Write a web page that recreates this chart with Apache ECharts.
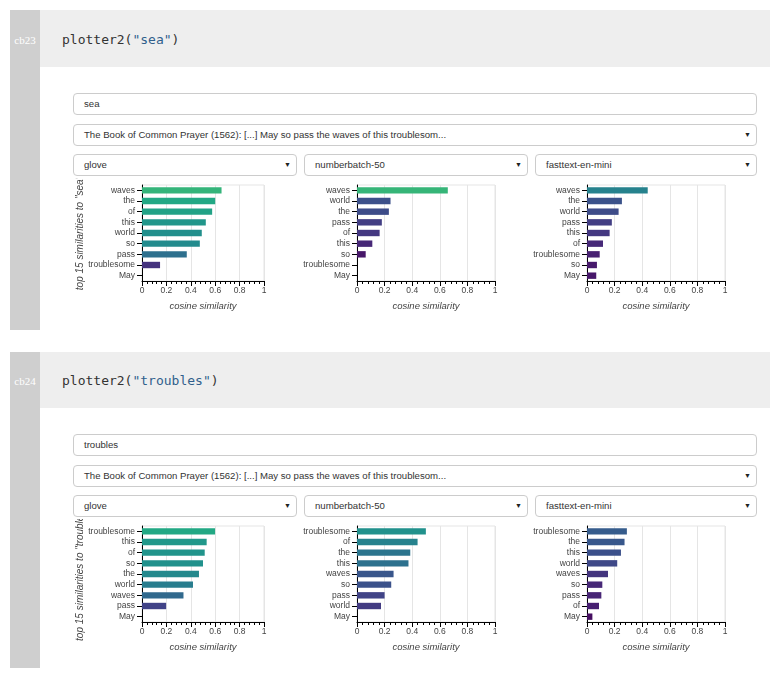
<!DOCTYPE html>
<html>
<head>
<meta charset="utf-8">
<script src="https://cdn.jsdelivr.net/npm/echarts@6/dist/echarts.min.js"></script>
<style>
body{margin:0;width:783px;height:686px;position:relative;background:#fff;font-family:"Liberation Sans",Arial,sans-serif;overflow:hidden}
.strip{position:absolute;left:10px;width:30px;background:#cfcfcf}
.head{position:absolute;left:40px;width:730px;background:#eeeeee}
.lbl{position:absolute;left:10px;width:30px;text-align:center;font-family:"Liberation Serif",serif;font-size:11px;line-height:12px;color:#fff}
.code{position:absolute;left:62px;font-family:"DejaVu Sans Mono",monospace;font-size:13px;line-height:16px;color:#333}
.code .s{color:#305f8c}
.box{position:absolute;height:22px;border:1px solid #ccc;border-radius:4px;background:#fff;box-sizing:border-box;font-size:9.6px;color:#333;line-height:20px;padding-left:10px;white-space:nowrap;overflow:hidden}
.arrow{position:absolute;right:5px;top:0;font-size:7px;color:#222}
.chart{position:absolute;height:142px}
</style>
</head>
<body>
<!-- cell cb23 -->
<div class="strip" style="top:10px;height:320px"></div>
<div class="head" style="top:10px;height:57px"></div>
<div class="lbl" style="top:34px">cb23</div>
<div class="code" style="top:32px">plotter2(<span class="s">"sea"</span>)</div>
<div class="box" style="left:73px;top:93px;width:684px">sea</div>
<div class="box" style="left:73px;top:124px;width:684px">The Book of Common Prayer (1562): [...] May so pass the waves of this troublesom...<span class="arrow">▼</span></div>
<div class="box" style="left:73px;top:154px;width:224px">glove<span class="arrow">▼</span></div>
<div class="box" style="left:304px;top:154px;width:224px">numberbatch-50<span class="arrow">▼</span></div>
<div class="box" style="left:535px;top:154px;width:222px">fasttext-en-mini<span class="arrow">▼</span></div>
<div class="chart" id="c1" style="left:63px;top:178px;width:234px"></div>
<div class="chart" id="c2" style="left:294px;top:178px;width:234px"></div>
<div class="chart" id="c3" style="left:525px;top:178px;width:233px"></div>

<!-- cell cb24 -->
<div class="strip" style="top:352px;height:316px"></div>
<div class="head" style="top:352px;height:56px"></div>
<div class="lbl" style="top:375px">cb24</div>
<div class="code" style="top:373px">plotter2(<span class="s">"troubles"</span>)</div>
<div class="box" style="left:73px;top:434px;width:684px">troubles</div>
<div class="box" style="left:73px;top:465px;width:684px">The Book of Common Prayer (1562): [...] May so pass the waves of this troublesom...<span class="arrow">▼</span></div>
<div class="box" style="left:73px;top:495px;width:224px">glove<span class="arrow">▼</span></div>
<div class="box" style="left:304px;top:495px;width:224px">numberbatch-50<span class="arrow">▼</span></div>
<div class="box" style="left:535px;top:495px;width:222px">fasttext-en-mini<span class="arrow">▼</span></div>
<div class="chart" id="c4" style="left:63px;top:519px;width:234px"></div>
<div class="chart" id="c5" style="left:294px;top:519px;width:234px"></div>
<div class="chart" id="c6" style="left:525px;top:519px;width:233px"></div>

<script>
// "sea"
const seaGloveWords = ['waves', 'the', 'of', 'this', 'world', 'so', 'pass', 'troublesome', 'May'];
const seaGloveValues = [0.652, 0.600, 0.575, 0.523, 0.490, 0.474, 0.367, 0.148, 0];
const seaNumberbatchWords = ['waves', 'world', 'the', 'pass', 'of', 'this', 'so', 'troublesome', 'May'];
const seaNumberbatchValues = [0.658, 0.243, 0.231, 0.180, 0.164, 0.111, 0.063, 0, 0];
const seaFasttextWords = ['waves', 'the', 'world', 'pass', 'this', 'of', 'troublesome', 'so', 'May'];
const seaFasttextValues = [0.440, 0.253, 0.229, 0.180, 0.164, 0.116, 0.092, 0.072, 0.067];

// "troubles"
const troublesGloveWords = ['troublesome', 'this', 'of', 'so', 'the', 'world', 'waves', 'pass', 'May'];
const troublesGloveValues = [0.599, 0.530, 0.514, 0.500, 0.467, 0.418, 0.340, 0.198, 0];
const troublesNumberbatchWords = ['troublesome', 'of', 'the', 'this', 'waves', 'so', 'pass', 'world', 'May'];
const troublesNumberbatchValues = [0.499, 0.439, 0.386, 0.373, 0.265, 0.248, 0.200, 0.174, 0];
const troublesFasttextWords = ['troublesome', 'the', 'this', 'world', 'waves', 'so', 'pass', 'of', 'May'];
const troublesFasttextValues = [0.289, 0.272, 0.246, 0.219, 0.152, 0.111, 0.104, 0.087, 0.039];

const xTicks = [0, 0.2, 0.4, 0.6, 0.8, 1];

// viridis, 0 -> 1
const VIRIDIS = ['#440154', '#482475', '#414487', '#355f8d', '#2a788e', '#21918c',
                 '#22a884', '#44bf70', '#7ad151', '#bddf26', '#fde725'];

function hexRgb(h) {
  return [parseInt(h.slice(1, 3), 16), parseInt(h.slice(3, 5), 16), parseInt(h.slice(5, 7), 16)];
}
function barColor(v) {
  const t = Math.max(0, Math.min(1, v)) * (VIRIDIS.length - 1);
  const i = Math.min(Math.floor(t), VIRIDIS.length - 2);
  const f = t - i;
  const a = hexRgb(VIRIDIS[i]), b = hexRgb(VIRIDIS[i + 1]);
  return 'rgb(' + a.map((c, k) => Math.round(c + (b[k] - c) * f)).join(',') + ')';
}

function drawChart(id, words, values, left, yName) {
  const chart = echarts.init(document.getElementById(id));
  chart.setOption({
    animation: false,
    grid: {
      left: left, right: 33, top: 7, bottom: 39,
      show: true, borderColor: '#e5e5e5', borderWidth: 1,
      containLabel: false, outerBoundsMode: 'none'
    },
    xAxis: {
      type: 'value', min: xTicks[0], max: xTicks[xTicks.length - 1], interval: 0.2,
      name: 'cosine similarity', nameLocation: 'middle', nameGap: 20,
      nameTextStyle: {fontStyle: 'italic', fontSize: 9.5, color: '#444'},
      axisLine: {show: true, lineStyle: {color: '#000'}},
      axisTick: {show: true, length: 5, lineStyle: {color: '#000'}},
      minorTick: {show: true, splitNumber: 5, length: 3, lineStyle: {color: '#000'}},
      axisLabel: {fontSize: 8.5, color: '#444', margin: 5},
      splitLine: {show: true, lineStyle: {color: '#e5e5e5'}}
    },
    yAxis: {
      type: 'category', inverse: true, data: words,
      name: yName || '', nameLocation: 'middle', nameGap: 57, nameRotate: 90,
      nameMoveOverlap: false,
      nameTextStyle: {fontStyle: 'italic', fontSize: 10, color: '#444'},
      axisLine: {show: true, lineStyle: {color: '#000'}},
      axisTick: {show: true, alignWithLabel: true, interval: 0, length: 5, lineStyle: {color: '#000'}},
      axisLabel: {fontSize: 8.5, color: '#444', margin: 7, interval: 0},
      splitLine: {show: false}
    },
    series: [{
      type: 'bar',
      barWidth: '60%',
      data: values.map(v => ({value: v, itemStyle: {color: barColor(v)}}))
    }]
  });
}

drawChart('c1', seaGloveWords, seaGloveValues, 79, 'top 15 similarities to "sea"');
drawChart('c2', seaNumberbatchWords, seaNumberbatchValues, 63);
drawChart('c3', seaFasttextWords, seaFasttextValues, 62);
drawChart('c4', troublesGloveWords, troublesGloveValues, 79, 'top 15 similarities to "troubles"');
drawChart('c5', troublesNumberbatchWords, troublesNumberbatchValues, 63);
drawChart('c6', troublesFasttextWords, troublesFasttextValues, 62);
</script>
</body>
</html>
